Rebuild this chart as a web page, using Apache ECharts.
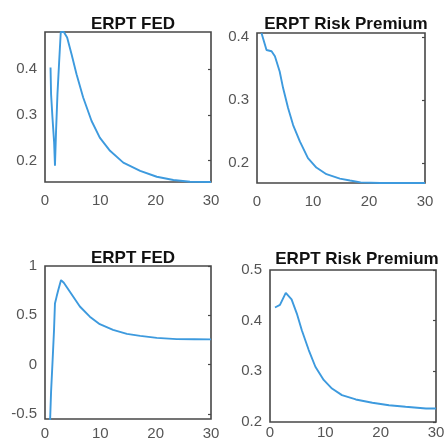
<!DOCTYPE html>
<html>
<head>
<meta charset="utf-8">
<script src="https://cdn.jsdelivr.net/npm/echarts@6/dist/echarts.min.js"></script>
<style>html,body{margin:0;padding:0;background:#fff}#c{width:445px;height:445px}</style>
</head>
<body>
<div id="c"></div>
<script>
// ---- data ----
var titles = ["ERPT FED", "ERPT Risk Premium", "ERPT FED", "ERPT Risk Premium"];
var xTicks = [0, 10, 20, 30];

// Panel 1: ERPT FED (top)
var t1 = [1.0, 1.1, 1.35, 1.65, 1.8, 2.0, 2.25, 2.55, 2.85, 3.4, 4.0, 4.8, 5.7, 6.9, 8.4, 9.9, 11.75, 14.15, 17.2, 20.2, 23.2, 26.2, 30];
var v1 = [0.404, 0.345, 0.294, 0.239, 0.188, 0.265, 0.345, 0.415, 0.482, 0.482, 0.470, 0.433, 0.389, 0.338, 0.287, 0.25, 0.221, 0.195, 0.177, 0.164, 0.157, 0.153, 0.1525];
var yTicks1 = [0.2, 0.3, 0.4];

// Panel 2: ERPT Risk Premium (top)
var t2 = [0.8, 1.7, 2.6, 3.2, 4.05, 4.65, 5.55, 6.45, 7.65, 9.1, 10.6, 12.4, 14.8, 16.6, 18.5, 22, 26, 30];
var v2 = [0.406, 0.379, 0.377, 0.369, 0.345, 0.319, 0.287, 0.26, 0.234, 0.2075, 0.1925, 0.182, 0.175, 0.172, 0.169, 0.168, 0.168, 0.168];
var yTicks2 = [0.2, 0.3, 0.4];

// Panel 3: ERPT FED (bottom)
var t3 = [0.9, 1.1, 1.38, 1.63, 1.8, 2.1, 2.4, 2.9, 3.4, 4.5, 6.3, 8.1, 9.9, 12.3, 14.8, 17.2, 20.2, 23.8, 27, 30];
var v3 = [-0.6, -0.27, 0.05, 0.35, 0.62, 0.69, 0.756, 0.857, 0.83, 0.74, 0.59, 0.487, 0.41, 0.353, 0.312, 0.292, 0.272, 0.259, 0.258, 0.257];
var yTicks3 = [-0.5, 0, 0.5, 1];

// Panel 4: ERPT Risk Premium (bottom)
var t4 = [0.9, 1.8, 2.85, 3.9, 4.85, 5.75, 7.0, 8.2, 9.7, 11.2, 13.0, 15.5, 18.5, 21.5, 24.5, 28.2, 30];
var v4 = [0.426, 0.431, 0.455, 0.442, 0.414, 0.381, 0.342, 0.309, 0.283, 0.266, 0.253, 0.2445, 0.238, 0.233, 0.230, 0.2267, 0.2265];
var yTicks4 = [0.2, 0.3, 0.4, 0.5];

// ---- layout / style ----
var panels = [
  {t: t1, v: v1, ticks: yTicks1, ymin: 0.1525, ymax: 0.482, grid: {left: 45, top: 32, width: 166, height: 150}, xMargin: 11, title: [128, 11]},
  {t: t2, v: v2, ticks: yTicks2, ymin: 0.168, ymax: 0.406, grid: {left: 257, top: 33, width: 168, height: 150}, xMargin: 11, title: [341, 11]},
  {t: t3, v: v3, ticks: yTicks3, ymin: -0.55, ymax: 1, grid: {left: 45, top: 266, width: 166, height: 153}, xMargin: 7, title: [128, 245]},
  {t: t4, v: v4, ticks: yTicks4, ymin: 0.2, ymax: 0.5, grid: {left: 270, top: 270, width: 166, height: 152}, xMargin: 3, title: [352, 246]}
];
var FONT = "'Liberation Sans', Arial, sans-serif";
var LINE = '#3d9ade';
var BOX = '#474747';
var LABEL = '#555555';

function fmt(v) { return String(Math.round(v * 100) / 100); }

var option = {
  animation: false,
  backgroundColor: '#fff',
  title: [], grid: [], xAxis: [], yAxis: [], series: []
};

panels.forEach(function (p, i) {
  option.title.push({
    text: titles[i], left: p.title[0], top: p.title[1], textAlign: 'center',
    textStyle: {fontFamily: FONT, fontSize: 17, fontWeight: 'bold', color: '#111'}
  });
  option.grid.push(Object.assign({
    show: true, borderColor: BOX, borderWidth: 1.6, backgroundColor: '#fff',
    containLabel: false, outerBoundsMode: 'none'
  }, p.grid));
  option.xAxis.push({
    type: 'value', gridIndex: i, min: 0, max: 30, interval: 10,
    axisLine: {show: false}, splitLine: {show: false},
    axisTick: {show: false},
    axisLabel: {margin: p.xMargin, fontFamily: FONT, fontSize: 15, color: LABEL, customValues: xTicks}
  });
  option.yAxis.push({
    type: 'value', gridIndex: i, min: p.ymin, max: p.ymax,
    axisLine: {show: false}, splitLine: {show: false},
    axisTick: {show: false},
    axisLabel: {margin: 8, fontFamily: FONT, fontSize: 15, color: LABEL, customValues: p.ticks, formatter: fmt, padding: [5, 0, 0, 0]}
  });
  option.yAxis.push({
    type: 'value', gridIndex: i, min: p.ymin, max: p.ymax, position: 'right',
    axisLine: {show: false}, splitLine: {show: false},
    axisTick: {show: true, inside: true, length: 3, customValues: p.ticks, lineStyle: {color: BOX, width: 1.2}},
    axisLabel: {show: false}
  });
  option.series.push({
    type: 'line', xAxisIndex: i, yAxisIndex: i * 2,
    data: p.t.map(function (t, k) { return [t, p.v[k]]; }),
    showSymbol: false, clip: true,
    lineStyle: {color: LINE, width: 1.9}
  });
});

var chart = echarts.init(document.getElementById('c'), null, {renderer: 'canvas'});
chart.setOption(option);
</script>
</body>
</html>
